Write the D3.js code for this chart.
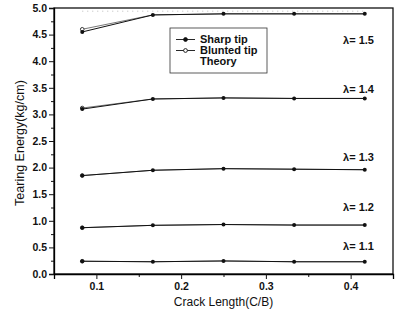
<!DOCTYPE html>
<html>
<head>
<meta charset="utf-8">
<script src="https://cdn.jsdelivr.net/npm/d3@7"></script>
<style>
  body { margin: 0; background: #fff; }
  text { font-family: "Liberation Sans", Arial, sans-serif; fill: #111; }
</style>
</head>
<body>
<div id="chart"></div>
<script>
// crack length C/B
var crackLength = [1/12, 2/12, 3/12, 4/12, 5/12];
var lambdas = ["1.1", "1.2", "1.3", "1.4", "1.5"];

// tearing energy (kg/cm) per lambda
var sharp11 = [0.24, 0.23, 0.245, 0.23, 0.23];
var sharp12 = [0.87, 0.915, 0.93, 0.92, 0.92];
var sharp13 = [1.85, 1.95, 1.98, 1.97, 1.96];
var sharp14 = [3.10, 3.29, 3.31, 3.30, 3.30];
var sharp15 = [4.55, 4.87, 4.89, 4.89, 4.89];

var blunt11 = [0.24, 0.23, 0.245, 0.23, 0.23];
var blunt12 = [0.87, 0.915, 0.93, 0.92, 0.92];
var blunt13 = [1.85, 1.95, 1.98, 1.97, 1.96];
var blunt14 = [3.12, 3.29, 3.31, 3.30, 3.30];
var blunt15 = [4.60, 4.87, 4.89, 4.89, 4.89];

var theory15 = [4.94, 4.94, 4.94, 4.94, 4.94];

var yTicks = [0.0, 0.5, 1.0, 1.5, 2.0, 2.5, 3.0, 3.5, 4.0, 4.5, 5.0];
var xTicks = [0.1, 0.2, 0.3, 0.4];

var sharpSeries = [sharp11, sharp12, sharp13, sharp14, sharp15];
var bluntSeries = [blunt11, blunt12, blunt13, blunt14, blunt15];
var labelY = [0.52, 1.25, 2.2, 3.48, 4.4];

var margin = {top: 8, right: 4, bottom: 46, left: 54},
    width = 393 - margin.left,
    height = 274 - margin.top;

var svg = d3.select("#chart").append("svg")
    .attr("width", 397)
    .attr("height", 320)
  .append("g")
    .attr("transform", "translate(" + margin.left + "," + margin.top + ")");

var x = d3.scaleLinear().domain([0.05, 0.45]).range([0, width]);
var y = d3.scaleLinear().domain([0, 5]).range([height, 0]);

// frame
svg.append("rect")
    .attr("width", width).attr("height", height)
    .attr("fill", "none").attr("stroke", "#111").attr("stroke-width", 1.3);

// minor ticks
svg.append("g").attr("transform", "translate(0," + height + ")")
    .call(d3.axisBottom(x).tickValues([0.05, 0.15, 0.25, 0.35, 0.45]).tickSize(3).tickFormat(""))
    .call(function(g) { g.select(".domain").remove(); });
svg.append("g")
    .call(d3.axisLeft(y).tickValues(d3.range(0.25, 5, 0.5)).tickSize(3).tickFormat(""))
    .call(function(g) { g.select(".domain").remove(); });

// major axes
var xAxis = svg.append("g").attr("transform", "translate(0," + height + ")")
    .call(d3.axisBottom(x).tickValues(xTicks).tickSize(5).tickPadding(4).tickFormat(d3.format(".1f")));
var yAxis = svg.append("g")
    .call(d3.axisLeft(y).tickValues(yTicks).tickSize(5).tickPadding(2).tickFormat(d3.format(".1f")));
[xAxis, yAxis].forEach(function(a) {
  a.select(".domain").attr("stroke-width", 1.3);
  a.selectAll("text").style("font-size", "10.5px").style("font-weight", "bold");
});
svg.selectAll(".tick line").attr("stroke", "#111");

var line = d3.line()
    .x(function(d, i) { return x(crackLength[i]); })
    .y(function(d) { return y(d); });

// theory
svg.append("path").datum(theory15)
    .attr("d", line).attr("fill", "none")
    .attr("stroke", "#bbb").attr("stroke-width", 1).attr("stroke-dasharray", "1,4");

// blunted tip
bluntSeries.forEach(function(s) {
  svg.append("path").datum(s).attr("d", line)
      .attr("fill", "none").attr("stroke", "#555").attr("stroke-width", 0.8);
  svg.selectAll(null).data(s.slice(0, 1)).enter().append("circle")
      .attr("cx", function(d, i) { return x(crackLength[i]); })
      .attr("cy", function(d) { return y(d); })
      .attr("r", 1.8).attr("fill", "#fff").attr("stroke", "#222").attr("stroke-width", 0.9);
});

// sharp tip
sharpSeries.forEach(function(s) {
  svg.append("path").datum(s).attr("d", line)
      .attr("fill", "none").attr("stroke", "#111").attr("stroke-width", 1);
  svg.selectAll(null).data(s).enter().append("circle")
      .attr("cx", function(d, i) { return x(crackLength[i]); })
      .attr("cy", function(d) { return y(d); })
      .attr("r", 2).attr("fill", "#111");
});

// lambda labels
lambdas.forEach(function(l, i) {
  svg.append("text")
      .attr("x", x(0.4275)).attr("y", y(labelY[i]))
      .attr("text-anchor", "end").attr("dy", "0.35em")
      .style("font-size", "11px").style("font-weight", "bold")
      .text("\u03bb= " + l);
});

// legend
var lg = svg.append("g").attr("transform", "translate(" + (170 - margin.left) + "," + (28 - margin.top) + ")");
lg.append("rect").attr("width", 97).attr("height", 45)
    .attr("fill", "#fff").attr("stroke", "#333").attr("stroke-width", 0.8);
var legendItems = ["Sharp tip", "Blunted tip", "Theory"];
legendItems.forEach(function(name, i) {
  var ly = 11.5 + i * 11;
  if (i < 2) {
    lg.append("line").attr("x1", 6).attr("x2", 25).attr("y1", ly).attr("y2", ly)
        .attr("stroke", "#111").attr("stroke-width", 0.9);
    lg.append("circle").attr("cx", 15.5).attr("cy", ly).attr("r", 1.9)
        .attr("fill", i === 0 ? "#111" : "#fff").attr("stroke", "#111").attr("stroke-width", 0.9);
  }
  lg.append("text").attr("x", 30).attr("y", ly).attr("dy", "0.35em")
      .style("font-size", "11px").style("font-weight", "bold").text(name);
});

// axis titles
svg.append("text")
    .attr("x", width / 2).attr("y", height + 28)
    .attr("text-anchor", "middle").attr("dy", "0.35em")
    .style("font-size", "12px")
    .text("Crack Length(C/B)");
svg.append("text")
    .attr("transform", "translate(" + (20 - margin.left) + "," + (height / 2 + 2) + ") rotate(-90)")
    .attr("text-anchor", "middle").attr("dy", "0.35em")
    .style("font-size", "12.5px")
    .text("Tearing Energy(kg/cm)");
</script>
</body>
</html>
